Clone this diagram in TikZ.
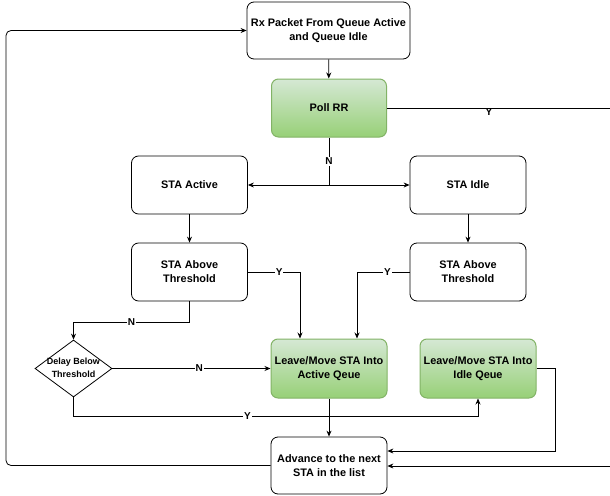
\documentclass[tikz,border=0pt]{standalone}
\usepackage{fontspec}
\setmainfont{Liberation Sans}
\usetikzlibrary{positioning}
\usetikzlibrary{calc}
\usetikzlibrary{arrows.meta}
\usetikzlibrary{shapes.geometric}

\definecolor{greenline}{HTML}{82B366}
\definecolor{greentop}{HTML}{D5E8D4}
\definecolor{greenbot}{HTML}{97D077}

\tikzset{
  stabox/.style={draw, rounded corners=7, line width=0.8pt, minimum width=116, minimum height=58,
    inner sep=0, align=center, font=\fontsize{10.9}{14}\selectfont\bfseries},
  greenbox/.style={stabox, draw=greenline, line width=1pt, top color=greentop, bottom color=greenbot},
  lbl/.style={fill=white, inner sep=1pt, font=\fontsize{10}{12}\selectfont\bfseries},
  flow/.style={line width=0.8pt, -{Stealth[length=6pt,width=5pt]}},
  plain/.style={line width=0.8pt},
}

\begin{document}
\begin{tikzpicture}[x=1pt, y=-1pt]

\useasboundingbox (0,0) rectangle (610,495);

% Boxes
\node[stabox, minimum width=163, minimum height=57] (rx) at (328.5,30.5) {Rx Packet From Queue Active\\and Queue Idle};
\node[greenbox, minimum width=115] (poll) at (329,108) {Poll RR};

\node[stabox] (staact) at (189.5,185) {STA Active};
\node[stabox] (staidle) at (468,185) {STA Idle};
\node[stabox] (aboveact) at (189.5,272) {STA Above\\Threshold};
\node[stabox] (aboveidle) at (468,272) {STA Above\\Threshold};

\node[draw, diamond, line width=0.8pt, minimum width=77, minimum height=57, inner sep=0,
  font=\fontsize{9}{13}\selectfont\bfseries] (delay) at (73.5,368.5)
  {\raisebox{-0.5ex}[0pt][0pt]{\makebox[0pt]{\begin{tabular}{@{}c@{}}Delay Below\\Threshold\end{tabular}}}};

\node[greenbox, minimum height=59] (leaveact) at (329,368.5) {Leave/Move STA Into\\Active Qeue};
\node[greenbox, minimum height=59] (leaveidle) at (478,368.5) {Leave/Move STA Into\\Idle Qeue};
\node[stabox, minimum height=57] (advance) at (329,465.5) {Advance to the next\\STA in the list};

% Points on the page edge
\coordinate (pollout) at (610,108);
\coordinate (retin) at (610,466);
\coordinate (split) at (329,185);
\coordinate (loopcorner) at (6,30.5);

% Connectors
\draw[flow] (rx) -- (poll);
\draw[plain] (poll.east) -- (pollout);
\node[lbl, fill=none] (ytop) at (489,112) {Y};

\draw[plain] (poll.south) -- node[lbl]{N} (split);
\draw[flow] (split) -- (staact.east);
\draw[flow] (split) -- (staidle.west);

\draw[flow] (staact) -- (aboveact);
\draw[flow] (staidle) -- (aboveidle);

\draw[flow] (aboveact.east) -| node[lbl, pos=0.3]{Y} ($(leaveact.north)+(-29,0)$);
\draw[flow] (aboveidle.west) -| node[lbl, pos=0.21]{Y} ($(leaveact.north)+(28,0)$);

\draw[flow] (aboveact.south) -- ++(0,21) -| node[lbl, pos=0.25]{N} (delay.north);
\draw[flow] (delay.east) -- node[lbl, pos=0.55]{N} (leaveact.west);
\draw[flow] (delay.south) -- ++(0,19) -| node[lbl, pos=0.215]{Y} (leaveidle.south);

\draw[flow] (leaveact) -- (advance);
\draw[flow] (leaveidle.east) -- ++(19,0) |- ($(advance.east)+(0,-14.5)$);
\draw[flow] (retin) -- (retin -| advance.east);

% Loop back to the top
\draw[flow, rounded corners=5] (advance.west) -| (loopcorner) -- (rx.west);

\end{tikzpicture}
\end{document}
